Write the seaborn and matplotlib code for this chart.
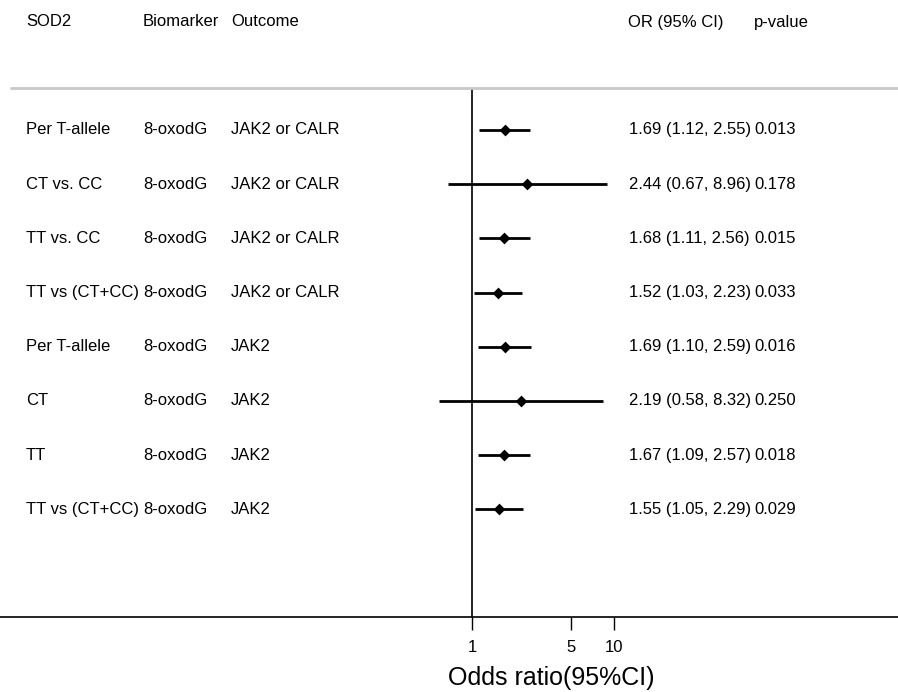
#!/usr/bin/env python3
import matplotlib
matplotlib.use("Agg")
import matplotlib.pyplot as plt
import pandas as pd
import seaborn as sns

genotype = ["Per T-allele", "CT vs. CC", "TT vs. CC", "TT vs (CT+CC)",
            "Per T-allele", "CT", "TT", "TT vs (CT+CC)"]
biomarker = ["8-oxodG"] * 8
outcome = ["JAK2 or CALR"] * 4 + ["JAK2"] * 4
or_est = [1.69, 2.44, 1.68, 1.52, 1.69, 2.19, 1.67, 1.55]
ci_low = [1.12, 0.67, 1.11, 1.03, 1.10, 0.58, 1.09, 1.05]
ci_high = [2.55, 8.96, 2.56, 2.23, 2.59, 8.32, 2.57, 2.29]
p_values = ["0.013", "0.178", "0.015", "0.033", "0.016", "0.250", "0.018", "0.029"]
headers = ["SOD2", "Biomarker", "Outcome", "OR (95% CI)", "p-value"]
x_ticks = [1, 5, 10]

W, H = 898, 692


def main():
    sns.set_theme(style="white")
    plt.rcParams["font.family"] = ["Liberation Sans", "DejaVu Sans"]
    plt.rcParams["text.color"] = "black"
    plt.rcParams["xtick.color"] = "black"
    plt.rcParams["xtick.labelcolor"] = "black"

    df = pd.DataFrame({
        "row": range(1, len(or_est) + 1),
        "or": or_est,
        "lo": ci_low,
        "hi": ci_high,
    })

    fig = plt.figure(figsize=(W / 100, H / 100), dpi=100)
    top_px, bottom_px = 88, 617
    ax = fig.add_axes([0, 1 - bottom_px / H, 1, (bottom_px - top_px) / H])

    ax.hlines(df["row"], df["lo"], df["hi"], color="black", linewidth=2.0, zorder=2)
    sns.scatterplot(data=df, x="or", y="row", marker="D", s=36, color="black",
                    edgecolor="black", linewidth=0, ax=ax, zorder=3, legend=False)
    ax.axvline(1, color="black", linewidth=1.2, zorder=1)

    ax.set_xscale("log")
    ax.set_xlim(4.64e-4, 1010)
    ax.set_ylim(9.99, 0.225)
    ax.set_xticks(x_ticks)
    ax.set_xticklabels([str(t) for t in x_ticks], fontsize=12, color="black")
    ax.minorticks_off()
    ax.tick_params(axis="x", direction="out", length=9.5, width=1.0, pad=7,
                   bottom=True, colors="black")
    ax.set_yticks([])
    ax.set_xlabel("")
    ax.set_ylabel("")
    for side in ["left", "right", "top"]:
        ax.spines[side].set_visible(False)
    ax.spines["bottom"].set_color("black")
    ax.spines["bottom"].set_linewidth(1.2)
    ax.axhline(0.225, xmin=11 / W, xmax=1, color="#c8c8c8", linewidth=2.0, clip_on=False)

    trans = ax.get_yaxis_transform()
    for i, row in enumerate(df["row"]):
        ax.text(26 / W, row, genotype[i], transform=trans, va="center", fontsize=12)
        ax.text(143 / W, row, biomarker[i], transform=trans, va="center", fontsize=12)
        ax.text(231 / W, row, outcome[i], transform=trans, va="center", fontsize=12)
        ax.text(629 / W, row, f"{or_est[i]:.2f} ({ci_low[i]:.2f}, {ci_high[i]:.2f})",
                transform=trans, va="center", fontsize=12)
        ax.text(754 / W, row, p_values[i], transform=trans, va="center", fontsize=12)

    header_x = [26, 143, 231, 628, 754]
    for x, label in zip(header_x, headers):
        fig.text(x / W, 1 - 22 / H, label, va="center", ha="left", fontsize=12)

    fig.text(551 / W, 1 - 678 / H, "Odds ratio(95%CI)", ha="center", va="center", fontsize=18)

    fig.savefig("out.png", dpi=100)
    plt.close(fig)


if __name__ == "__main__":
    main()
